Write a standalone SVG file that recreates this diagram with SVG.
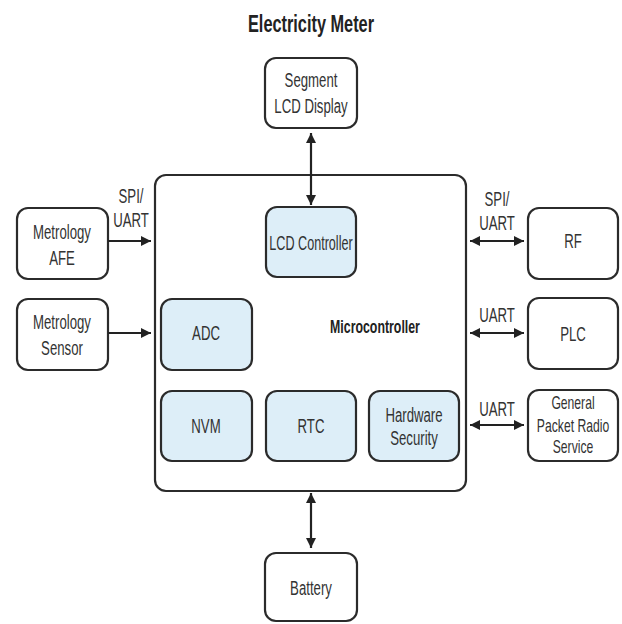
<svg xmlns="http://www.w3.org/2000/svg" width="622" height="624" viewBox="0 0 622 624">
<defs>
<marker id="ah" viewBox="0 0 10 10" refX="10" refY="5" markerWidth="11" markerHeight="10" markerUnits="userSpaceOnUse" orient="auto-start-reverse">
<path d="M0,0 L10,5 L0,10 z" fill="#222"/>
</marker>
<style>
.w{fill:#fff;stroke:#2b2b2b;stroke-width:2.2}
.b{fill:#ddeef8;stroke:#2b2b2b;stroke-width:2.2}
text{font-family:"Liberation Sans",Arial,sans-serif;font-size:20px;fill:#333;text-anchor:middle}
.bold{font-weight:bold;fill:#222}
.c line{stroke:#222;stroke-width:2.2}
</style>
</defs>
<rect width="622" height="624" fill="#fff"/>
<text class="bold" transform="translate(311 32) scale(0.68 1)" style="font-size:24px">Electricity Meter</text>

<g id="microcontroller">
<rect class="w" x="155" y="175" width="311" height="316" rx="11"/>
<text class="bold" transform="translate(375 333) scale(0.65 1)" style="font-size:19px">Microcontroller</text>
</g>
<g id="segment-lcd">
<rect class="w" x="265" y="58" width="92" height="70" rx="11"/>
<text transform="translate(311 87) scale(0.66 1)">Segment</text>
<text transform="translate(311 113) scale(0.66 1)">LCD Display</text>
</g>
<g id="metrology-afe">
<rect class="w" x="17" y="208" width="91" height="71" rx="11"/>
<text transform="translate(62 239) scale(0.66 1)">Metrology</text>
<text transform="translate(62 265) scale(0.66 1)">AFE</text>
</g>
<g id="metrology-sensor">
<rect class="w" x="17" y="299" width="91" height="71" rx="11"/>
<text transform="translate(62 329) scale(0.66 1)">Metrology</text>
<text transform="translate(62 355) scale(0.66 1)">Sensor</text>
</g>
<g id="lcd-controller">
<rect class="b" x="266" y="207" width="90" height="70" rx="11"/>
<text transform="translate(311 250) scale(0.63 1)">LCD Controller</text>
</g>
<g id="adc">
<rect class="b" x="161" y="299" width="91" height="71" rx="11"/>
<text transform="translate(206 340) scale(0.66 1)">ADC</text>
</g>
<g id="nvm">
<rect class="b" x="161" y="391" width="91" height="70" rx="11"/>
<text transform="translate(206 433) scale(0.66 1)">NVM</text>
</g>
<g id="rtc">
<rect class="b" x="266" y="391" width="90" height="70" rx="11"/>
<text transform="translate(311 433) scale(0.66 1)">RTC</text>
</g>
<g id="hardware-security">
<rect class="b" x="369" y="391" width="90" height="70" rx="11"/>
<text transform="translate(414 422) scale(0.66 1)">Hardware</text>
<text transform="translate(414 445) scale(0.66 1)">Security</text>
</g>
<g id="rf">
<rect class="w" x="528" y="208" width="90" height="71" rx="11"/>
<text transform="translate(573 248) scale(0.66 1)">RF</text>
</g>
<g id="plc">
<rect class="w" x="528" y="298" width="90" height="71" rx="11"/>
<text transform="translate(573 341) scale(0.66 1)">PLC</text>
</g>
<g id="gprs">
<rect class="w" x="528" y="390" width="90" height="71" rx="11"/>
<text transform="translate(573 409) scale(0.64 1)" style="font-size:19px">General</text>
<text transform="translate(573 432) scale(0.64 1)" style="font-size:19px">Packet Radio</text>
<text transform="translate(573 453) scale(0.64 1)" style="font-size:19px">Service</text>
</g>
<g id="battery">
<rect class="w" x="265" y="553" width="92" height="68" rx="11"/>
<text transform="translate(311 595) scale(0.66 1)">Battery</text>
</g>

<g id="connectors" class="c">
<line x1="311" y1="133" x2="311" y2="205" marker-start="url(#ah)" marker-end="url(#ah)"/>
<line x1="108" y1="241" x2="151" y2="241" marker-end="url(#ah)"/>
<line x1="108" y1="333" x2="151" y2="333" marker-end="url(#ah)"/>
<line x1="470" y1="241" x2="524" y2="241" marker-start="url(#ah)" marker-end="url(#ah)"/>
<line x1="470" y1="333" x2="524" y2="333" marker-start="url(#ah)" marker-end="url(#ah)"/>
<line x1="470" y1="425" x2="524" y2="425" marker-start="url(#ah)" marker-end="url(#ah)"/>
<line x1="311" y1="493" x2="311" y2="548" marker-start="url(#ah)" marker-end="url(#ah)"/>
</g>
<g id="labels">
<text transform="translate(131 203) scale(0.66 1)">SPI/</text>
<text transform="translate(131 227) scale(0.66 1)">UART</text>
<text transform="translate(497 206) scale(0.66 1)">SPI/</text>
<text transform="translate(497 230) scale(0.66 1)">UART</text>
<text transform="translate(497 322) scale(0.66 1)">UART</text>
<text transform="translate(497 416) scale(0.66 1)">UART</text>
</g>
</svg>
